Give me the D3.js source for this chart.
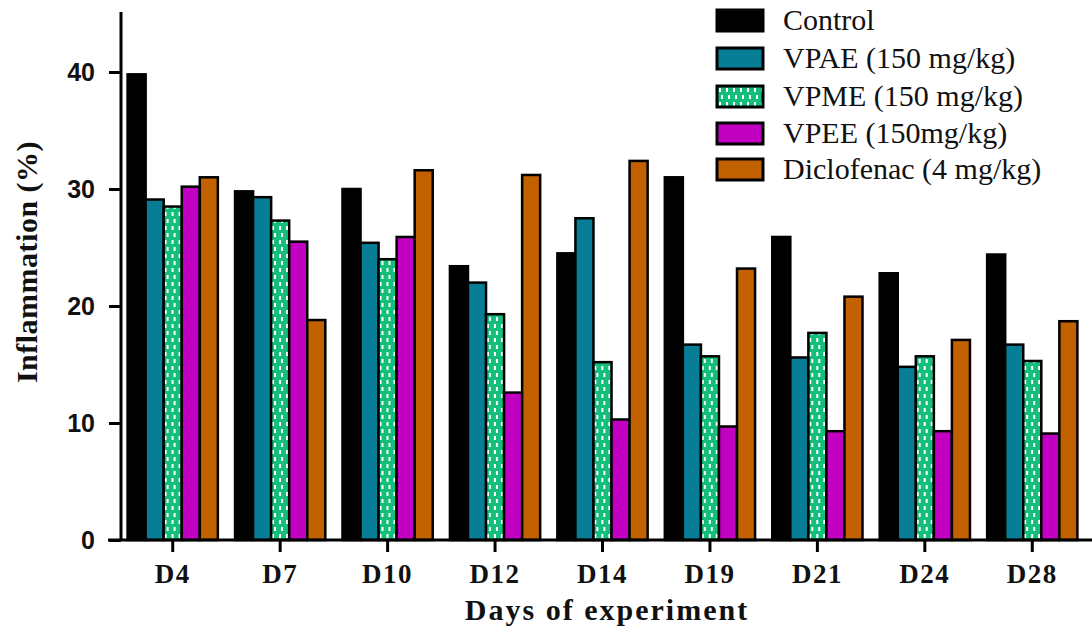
<!DOCTYPE html>
<html>
<head>
<meta charset="utf-8">
<script src="https://cdn.jsdelivr.net/npm/d3@7"></script>
<style>
  html, body { margin: 0; padding: 0; background: #fff; }
  svg { display: block; }
</style>
</head>
<body>
<svg id="chart" width="1092" height="633"></svg>
<script>
// Days of measurement
const days = ["D4", "D7", "D10", "D12", "D14", "D19", "D21", "D24", "D28"];

// Treatment groups
const groups = ["Control", "VPAE (150 mg/kg)", "VPME (150 mg/kg)", "VPEE (150mg/kg)", "Diclofenac (4 mg/kg)"];

// Inflammation (%) per group, one value per day
const control    = [39.8, 29.8, 30.0, 23.4, 24.5, 31.0, 25.9, 22.8, 24.4];
const vpae       = [29.1, 29.3, 25.4, 22.0, 27.5, 16.7, 15.6, 14.8, 16.7];
const vpme       = [28.5, 27.3, 24.0, 19.3, 15.2, 15.7, 17.7, 15.7, 15.3];
const vpee       = [30.2, 25.5, 25.9, 12.6, 10.3,  9.7,  9.3,  9.3,  9.1];
const diclofenac = [31.0, 18.8, 31.6, 31.2, 32.4, 23.2, 20.8, 17.1, 18.7];

const yTicks = [0, 10, 20, 30, 40];

const seriesValues = [control, vpae, vpme, vpee, diclofenac];
const fills = ["#000000", "#077e96", "url(#dots)", "#c100c1", "#c26100"];

const serif = "'Liberation Serif', 'Times New Roman', Times, serif";
const sans = "'Liberation Sans', Arial, Helvetica, sans-serif";

const svg = d3.select("#chart");

// Dotted green fill for the VPME bars
const defs = svg.append("defs");
const pat = defs.append("pattern")
  .attr("id", "dots")
  .attr("patternUnits", "userSpaceOnUse")
  .attr("width", 7).attr("height", 14);
pat.append("rect").attr("width", 7).attr("height", 14).attr("fill", "#14bf7c");
pat.append("rect").attr("x", 2).attr("y", 2).attr("width", 2).attr("height", 4).attr("fill", "#fff");
pat.append("rect").attr("x", 4).attr("y", 9).attr("width", 2).attr("height", 4).attr("fill", "#fff");

const y = d3.scaleLinear().domain([0, 45]).range([540, 13.5]);
const x = d3.scaleBand().domain(days).range([119, 1086]).paddingInner(0.16).paddingOuter(0.08);
const xs = d3.scaleBand().domain(d3.range(groups.length)).range([0, x.bandwidth()]);

// Bars
const dayG = svg.append("g").selectAll("g")
  .data(days)
  .join("g")
  .attr("transform", d => `translate(${x(d)},0)`);

dayG.selectAll("rect")
  .data((d, i) => seriesValues.map((vals, k) => ({ k, v: vals[i] })))
  .join("rect")
  .attr("x", d => xs(d.k))
  .attr("y", d => y(d.v))
  .attr("width", xs.bandwidth())
  .attr("height", d => y(0) - y(d.v))
  .attr("fill", d => fills[d.k])
  .attr("stroke", "#000")
  .attr("stroke-width", 2.5);

// Y axis
const yAxis = svg.append("g")
  .attr("transform", "translate(121,0)")
  .call(d3.axisLeft(y).tickValues(yTicks).tickSize(12).tickPadding(14).tickSizeOuter(0));
yAxis.select(".domain").attr("stroke-width", 3).attr("d", `M0,${y(45) - 1.5}V${y(0)}`);
yAxis.selectAll(".tick line").attr("stroke-width", 3);
yAxis.selectAll(".tick text")
  .style("font-family", sans)
  .style("font-weight", "bold")
  .style("font-size", "25px")
  .attr("fill", "#111");

// X axis
const xAxis = svg.append("g")
  .attr("transform", `translate(0,${y(0)})`)
  .call(d3.axisBottom(x).tickSize(12).tickPadding(12).tickSizeOuter(0));
xAxis.select(".domain").attr("stroke-width", 3).attr("d", "M108,0H1092");
xAxis.selectAll(".tick line").attr("stroke-width", 3);
xAxis.selectAll(".tick text")
  .style("font-family", serif)
  .style("font-weight", "bold")
  .style("font-size", "27px")
  .style("letter-spacing", "1.5px")
  .attr("fill", "#111");

// Axis titles
svg.append("text")
  .attr("x", 607).attr("y", 620)
  .attr("text-anchor", "middle")
  .style("font-family", serif)
  .style("font-weight", "bold")
  .style("font-size", "30px")
  .style("letter-spacing", "2px")
  .attr("fill", "#111")
  .text("Days of experiment");

svg.append("text")
  .attr("transform", "translate(37,262) rotate(-90)")
  .attr("text-anchor", "middle")
  .style("font-family", serif)
  .style("font-weight", "bold")
  .style("font-size", "30px")
  .style("letter-spacing", "0.5px")
  .attr("fill", "#111")
  .text("Inflammation (%)");

// Legend
const legendRows = [10, 48, 86, 123, 159];
const legend = svg.append("g").selectAll("g")
  .data(groups)
  .join("g")
  .attr("transform", (d, i) => `translate(717,${legendRows[i]})`);
legend.append("rect")
  .attr("width", 46).attr("height", 21)
  .attr("fill", (d, i) => fills[i])
  .attr("stroke", "#000")
  .attr("stroke-width", 3);
legend.append("text")
  .attr("x", 66).attr("y", 20)
  .style("font-family", serif)
  .style("font-size", "30px")
  .attr("fill", "#111")
  .text(d => d);
</script>
</body>
</html>
